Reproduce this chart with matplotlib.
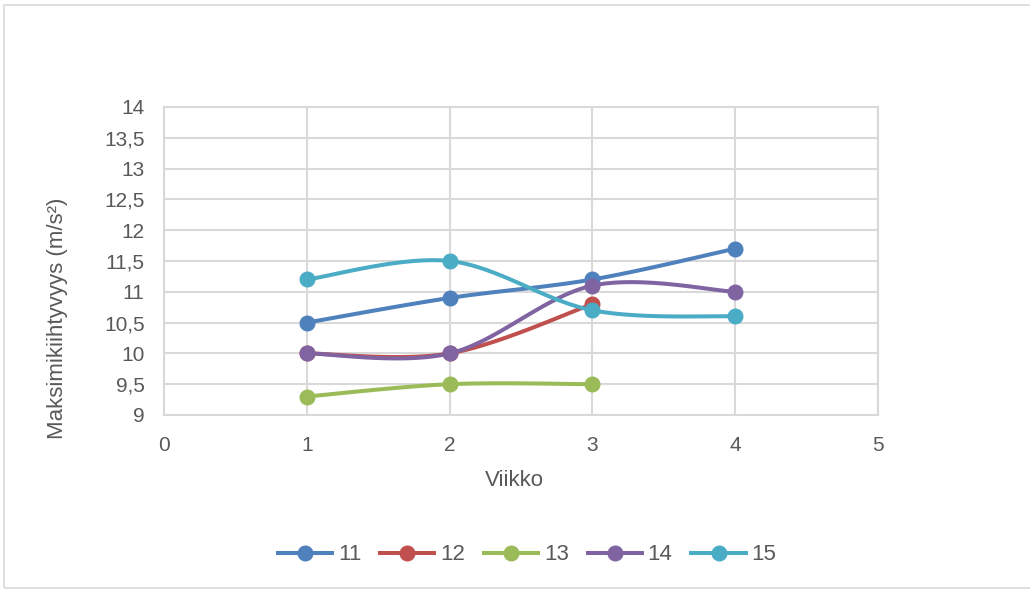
import numpy as np
import matplotlib
matplotlib.use("Agg")
import matplotlib.pyplot as plt
from matplotlib.lines import Line2D
from matplotlib.patches import Rectangle

plt.rcParams['font.family'] = ['Liberation Sans', 'DejaVu Sans']

# Weekly maximum acceleration per subject
series_names = ["11", "12", "13", "14", "15"]
weeks = {
    "11": [1, 2, 3, 4],
    "12": [1, 2, 3],
    "13": [1, 2, 3],
    "14": [1, 2, 3, 4],
    "15": [1, 2, 3, 4],
}
values = {
    "11": [10.5, 10.9, 11.2, 11.7],
    "12": [10.0, 10.0, 10.8],
    "13": [9.3, 9.5, 9.5],
    "14": [10.0, 10.0, 11.1, 11.0],
    "15": [11.2, 11.5, 10.7, 10.6],
}
colors = {
    "11": "#4F81BD",
    "12": "#C0504D",
    "13": "#9BBB59",
    "14": "#8064A2",
    "15": "#4BACC6",
}
x_ticks = [0, 1, 2, 3, 4, 5]
y_ticks = [9, 9.5, 10, 10.5, 11, 11.5, 12, 12.5, 13, 13.5, 14]

TEXT = "#595959"
GRID = "#D9D9D9"


def smooth(xs, ys, n=40):
    """Cubic Bezier smoothing through the points (Catmull-Rom control points)."""
    pts = np.column_stack([xs, ys]).astype(float)
    if len(pts) < 3:
        return pts[:, 0], pts[:, 1]
    out = []
    t = np.linspace(0, 1, n)
    for i in range(len(pts) - 1):
        p0 = pts[i - 1] if i > 0 else pts[i]
        p1 = pts[i]
        p2 = pts[i + 1]
        p3 = pts[i + 2] if i + 2 < len(pts) else pts[i + 1]
        c1 = p1 + (p2 - p0) / 6.0
        c2 = p2 - (p3 - p1) / 6.0
        seg = ((1 - t) ** 3)[:, None] * p1 + (3 * (1 - t) ** 2 * t)[:, None] * c1 \
            + (3 * (1 - t) * t ** 2)[:, None] * c2 + (t ** 3)[:, None] * p2
        out.append(seg if i == 0 else seg[1:])
    seg = np.vstack(out)
    return seg[:, 0], seg[:, 1]


fig = plt.figure(figsize=(10.3, 5.9), dpi=100)
fig.patches.append(Rectangle((4 / 1030, 0.003), 1.2, 1 - 0.003 - 5 / 590,
                             transform=fig.transFigure, fill=False,
                             edgecolor=GRID, linewidth=1.2))

ax = fig.add_axes([164 / 1030, 1 - 415 / 590, 714 / 1030, 308 / 590])
ax.set_xlim(0, 5)
ax.set_ylim(9, 14)
ax.set_xticks(x_ticks)
ax.set_yticks(y_ticks)
ax.set_xticklabels([str(v) for v in x_ticks])
ax.set_yticklabels([("%g" % v).replace(".", ",") for v in y_ticks])
ax.grid(True, color=GRID, linewidth=1.5)
ax.set_axisbelow(True)
for s in ax.spines.values():
    s.set_color(GRID)
    s.set_linewidth(1.5)
ax.tick_params(length=0, labelsize=15, colors=TEXT)
ax.tick_params(axis="y", pad=14)
ax.tick_params(axis="x", pad=15)

for name in series_names:
    sx, sy = smooth(weeks[name], values[name])
    ax.plot(sx, sy, color=colors[name], linewidth=2.9, solid_capstyle="round", zorder=3)
    ax.plot(weeks[name], values[name], linestyle="none", marker="o", markersize=10.5,
            color=colors[name], zorder=4, clip_on=False)

fig.text(514 / 1030, 1 - 480 / 590, "Viikko", fontsize=16, color=TEXT,
         ha="center", va="center")
fig.text(58 / 1030, 1 - 318 / 590, "Maksimikiihtyvyys (m/s²)", fontsize=16, color=TEXT,
         ha="center", va="center", rotation=90)

handles = [Line2D([0], [0], color=colors[n], linewidth=2.9, marker="o", markersize=10.5)
           for n in series_names]
fig.legend(handles, series_names, loc="center", bbox_to_anchor=(527 / 1030, 1 - 555 / 590),
           ncol=5, frameon=False, fontsize=16, labelcolor=TEXT,
           handlelength=2.45, handletextpad=0.25, columnspacing=0.85)

fig.savefig("out.png", dpi=100)
